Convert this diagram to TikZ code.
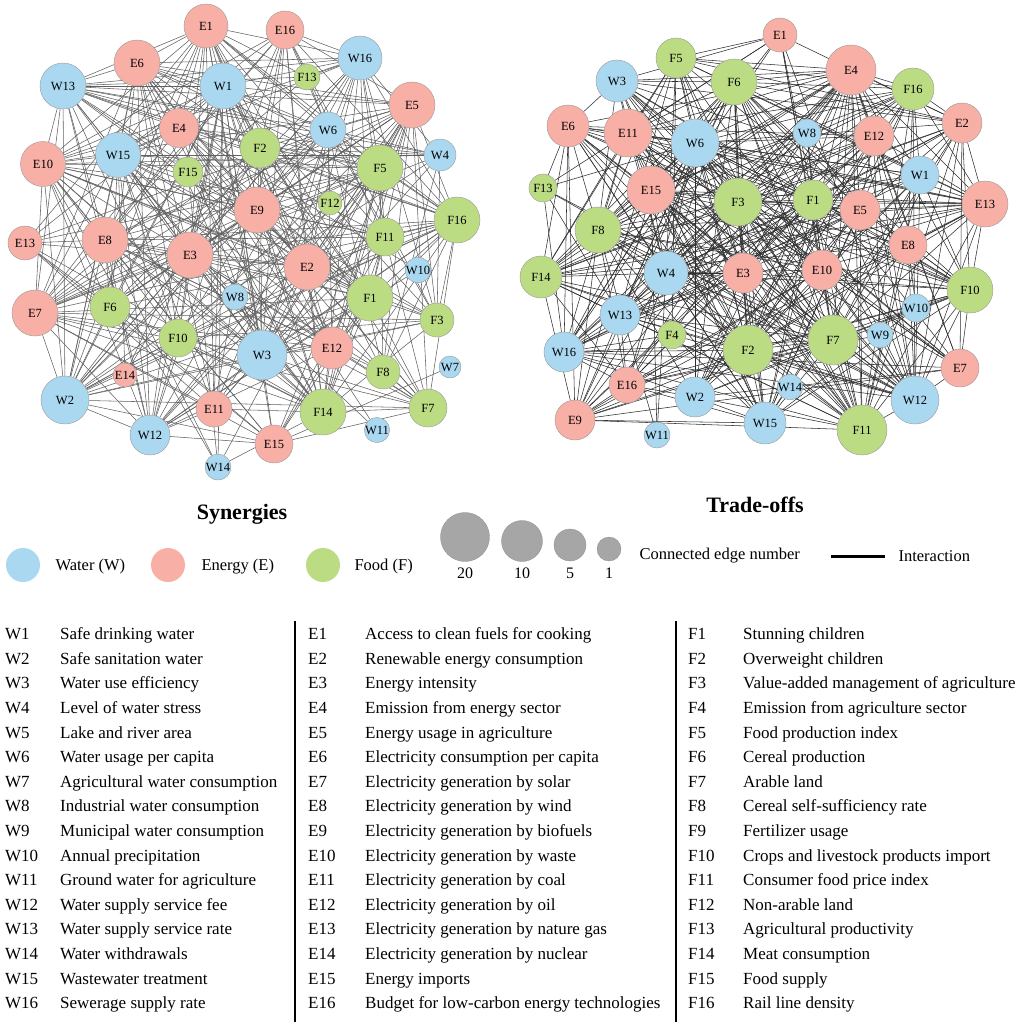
\documentclass[tikz,border=0pt]{standalone}
\usepackage{fontspec}
\setmainfont{Liberation Serif}
\usetikzlibrary{backgrounds}
\definecolor{watblue}{RGB}{169,216,240}
\definecolor{enepink}{RGB}{248,175,166}
\definecolor{foogreen}{RGB}{187,220,131}
\definecolor{legendgrey}{RGB}{166,166,166}

\def\synlist{W1/223/86/23/watblue, E1/206/26/22/enepink, E16/285/30/19/enepink, W16/360/58/22/watblue,
  F13/307/77/13/foogreen, E6/137/63/23/enepink, W13/63/86/23/watblue, E5/412/105/23/enepink,
  E4/179/128/19.5/enepink, W6/328/130/18/watblue, F2/260/148/20/foogreen, W4/440/155/16/watblue,
  W15/118/155/22.5/watblue, E10/43/164/22.5/enepink, F15/188/172/15/foogreen, F5/380/168/23/foogreen,
  F12/330/203/12/foogreen, E9/257/210/23/enepink, F16/457/220/23/foogreen, F11/385/237/19/foogreen,
  E8/105/240/23/enepink, E13/25/243/17/enepink, E3/190/255/23/enepink, E2/307/267/23/enepink,
  W10/418/270/12/watblue, W8/235/297/13/watblue, F1/370/298/23/foogreen, E7/35/313/23/enepink,
  F6/110/307/20/foogreen, F3/437/320/17/foogreen, F10/178/338/19/foogreen, W3/262/355/25/watblue,
  E12/332/348/21/enepink, F8/383/372/17/foogreen, W7/450/367/11/watblue, E14/125/375/12/enepink,
  W2/65/400/24/watblue, E11/214/409/18/enepink, F14/323/412/23/foogreen, E15/274/444/19/enepink,
  W14/218/467/13/watblue, W12/150/435/20/watblue, F7/428/408/19/foogreen, W11/377/430/12/watblue}

\def\tralist{E1/780/35/17/enepink, F5/676/58/20/foogreen, E4/851/70/25/enepink, F6/734/82/23/foogreen,
  W3/617/81/21/watblue, F16/913/89/21/foogreen, W8/807/133/14/watblue, E12/874/136/20/enepink,
  E2/962/123/20/enepink, E6/568/126/21/enepink, E11/628/133/24/enepink, W6/695/143/24/watblue,
  W1/920/175/19/watblue, E5/860/210/20/enepink, F13/543/188/14/foogreen, E15/651/190/24/enepink,
  F3/738/202/24/foogreen, F1/813/200/20/foogreen, E13/985/204/23/enepink, F8/598/230/23/foogreen,
  E8/908/245/19/enepink, F14/541/277/21/foogreen, W4/666/273/22/watblue, E3/743/273/20/enepink,
  E10/822/270/20/enepink, F10/970/290/23/foogreen, W10/916/308/14/watblue, W13/620/315/20/watblue,
  F4/672/335/14/foogreen, F2/748/350/25/foogreen, F7/833/340/25/foogreen, W9/880/335/13/watblue,
  W16/564/352/20/watblue, E7/960/368/19/enepink, E16/627/385/18/enepink, W2/695/397/20/watblue,
  W14/790/387/12/watblue, W12/915/400/24/watblue, E9/575/420/20/enepink, W11/657/435/13/watblue,
  W15/765/423/21/watblue, F11/862/430/25/foogreen}

\begin{document}
\begin{tikzpicture}[x=1pt, y=-1pt,
    vnode/.style={circle, draw=black!40, line width=0.4pt, inner sep=0pt, minimum size=#1,
      font=\fontsize{12.5}{12.5}\selectfont},
    synlink/.style={line width=0.55pt, black!62},
    tralink/.style={line width=0.55pt, black!82},
    keydot/.style={circle, inner sep=0pt, minimum size=#1},
    keytext/.style={anchor=west, font=\fontsize{16.5}{18}\selectfont},
    title/.style={font=\bfseries\fontsize{22}{24}\selectfont},
    tab/.style={anchor=base west, font=\fontsize{17}{18}\selectfont, inner sep=0pt}]
\useasboundingbox (0,0) rectangle (1021,1026);
\pgfmathsetseed{11}

\foreach \n/\x/\y/\r/\c in \synlist
    \node[vnode=2*\r pt, fill=\c] (s\n) at (\x,\y) {\n};
\foreach \n/\x/\y/\r/\c in \tralist
    \node[vnode=2*\r pt, fill=\c] (t\n) at (\x,\y) {\n};

\begin{scope}[on background layer]
\foreach \a/\xa/\ya/\ra/\ca [count=\i] in \synlist {
  \foreach \b/\xb/\yb/\rb/\cb [count=\j] in \synlist {
    \ifnum\j>\i
      \pgfmathtruncatemacro\hit{(rnd < max(0.6,(\ra*\ra-120)/24)*max(0.6,(\rb*\rb-120)/24)/330) ? 1 : 0}
      \ifnum\hit=1 \draw[synlink] (s\a) -- (s\b); \fi
    \fi
  }
}
\foreach \a/\xa/\ya/\ra/\ca [count=\i] in \tralist {
  \foreach \b/\xb/\yb/\rb/\cb [count=\j] in \tralist {
    \ifnum\j>\i
      \pgfmathtruncatemacro\hit{(rnd < max(0.6,(\ra*\ra-120)/24)*max(0.6,(\rb*\rb-120)/24)/300) ? 1 : 0}
      \ifnum\hit=1 \draw[tralink] (t\a) -- (t\b); \fi
    \fi
  }
}
\end{scope}

\node[title] (syn) at (242,514) {Synergies};
\node[title] (tra) at (755,505) {Trade-offs};

\node[keydot=34pt, fill=watblue] (kw) at (23,565) {};
\node[keytext] (kwt) at (52,567) {Water (W)};
\node[keydot=34pt, fill=enepink] (ke) at (168,565) {};
\node[keytext] (ket) at (198,567) {Energy (E)};
\node[keydot=34pt, fill=foogreen] (kf) at (323,565) {};
\node[keytext] (kft) at (351,567) {Food (F)};

\foreach \v/\x/\y/\r in {20/465/537/24.5, 10/522/541/20.5, 5/570/545/16, 1/609/549/12} {
    \node[keydot=2*\r pt, fill=legendgrey, draw=black!45, line width=0.3pt] (g\v) at (\x,\y) {};
    \node[font=\fontsize{16}{18}\selectfont] (g\v t) at (\x,573) {\v};
}
\node[keytext] (gtext) at (636,556) {Connected edge number};
\coordinate (ia) at (831,556);
\coordinate (ib) at (885,556);
\draw[line width=3pt] (ia) -- (ib);
\node[keytext] (itext) at (895,556) {Interaction};

\foreach \c/\t [count=\k] in {W1/Safe drinking water, W2/Safe sanitation water, W3/Water use efficiency,
    W4/Level of water stress, W5/Lake and river area, W6/Water usage per capita,
    W7/Agricultural water consumption, W8/Industrial water consumption, W9/Municipal water consumption,
    W10/Annual precipitation, W11/Ground water for agriculture, W12/Water supply service fee,
    W13/Water supply service rate, W14/Water withdrawals, W15/Wastewater treatment,
    W16/Sewerage supply rate} {
    \node[tab] (wc\k) at (5,{615+24.6*\k}) {\c};
    \node[tab] (wd\k) at (60,{615+24.6*\k}) {\t};
}
\foreach \c/\t [count=\k] in {E1/Access to clean fuels for cooking, E2/Renewable energy consumption,
    E3/Energy intensity, E4/Emission from energy sector, E5/Energy usage in agriculture,
    E6/Electricity consumption per capita, E7/Electricity generation by solar,
    E8/Electricity generation by wind, E9/Electricity generation by biofuels,
    E10/Electricity generation by waste, E11/Electricity generation by coal,
    E12/Electricity generation by oil, E13/Electricity generation by nature gas,
    E14/Electricity generation by nuclear, E15/Energy imports,
    E16/Budget for low-carbon energy technologies} {
    \node[tab] (ec\k) at (308,{615+24.6*\k}) {\c};
    \node[tab] (ed\k) at (365,{615+24.6*\k}) {\t};
}
\foreach \c/\t [count=\k] in {F1/Stunning children, F2/Overweight children,
    F3/Value-added management of agriculture, F4/Emission from agriculture sector,
    F5/Food production index, F6/Cereal production, F7/Arable land, F8/Cereal self-sufficiency rate,
    F9/Fertilizer usage, F10/Crops and livestock products import, F11/Consumer food price index,
    F12/Non-arable land, F13/Agricultural productivity, F14/Meat consumption, F15/Food supply,
    F16/Rail line density} {
    \node[tab] (fc\k) at (688,{615+24.6*\k}) {\c};
    \node[tab] (fd\k) at (743,{615+24.6*\k}) {\t};
}
\draw[line width=1.1pt] (295,621) -- (295,1022);
\draw[line width=1.1pt] (676,621) -- (676,1022);
\end{tikzpicture}
\end{document}
